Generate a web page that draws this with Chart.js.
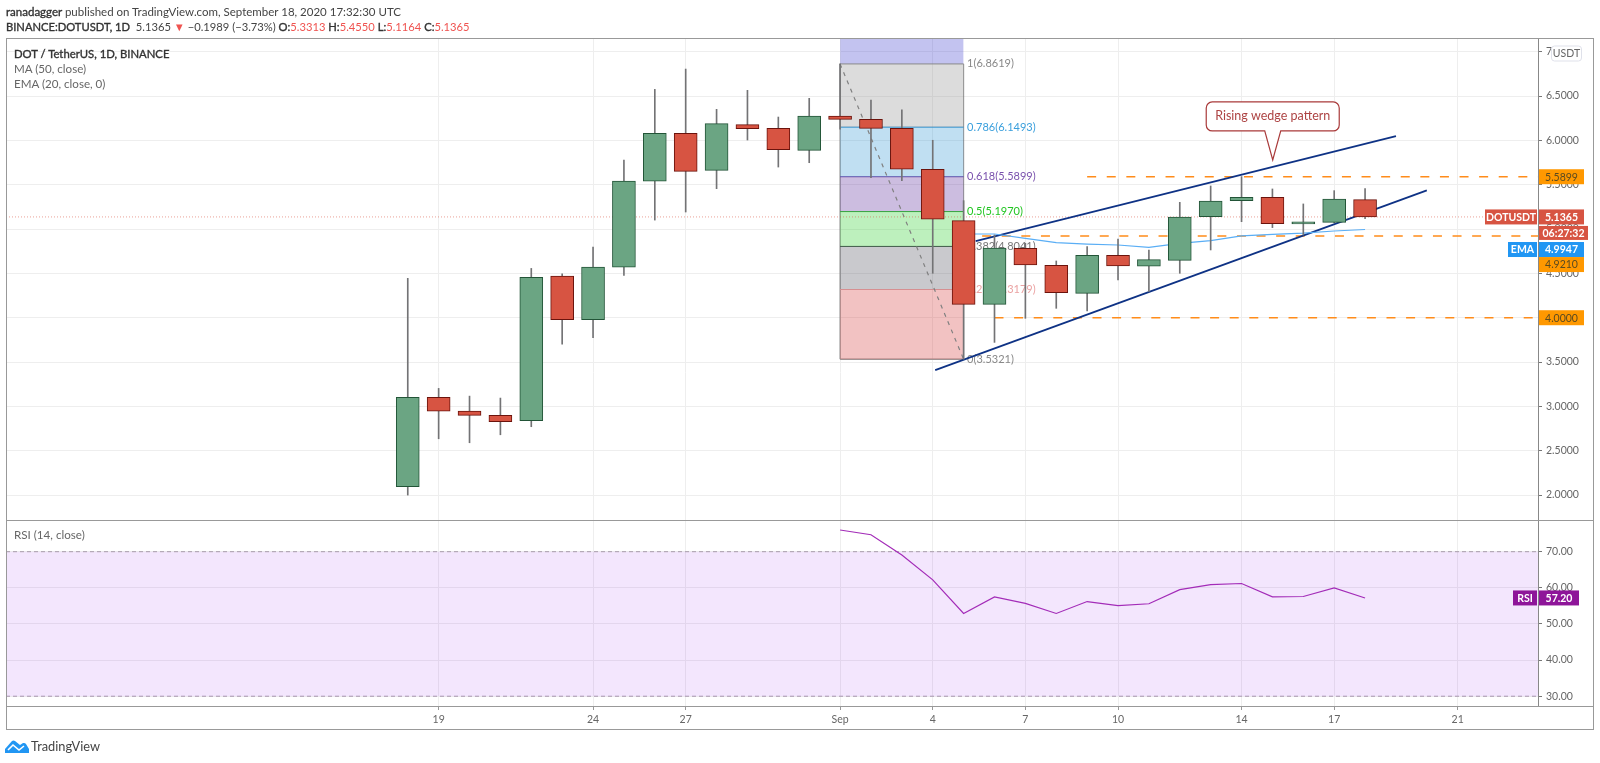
<!DOCTYPE html>
<html>
<head>
<meta charset="utf-8">
<title>DOTUSDT</title>
<script src="https://cdn.jsdelivr.net/npm/chart.js@4/dist/chart.umd.js"></script>
<style>
  html, body { margin: 0; padding: 0; background: #fff; }
  #wrap { position: relative; width: 1600px; height: 763px; overflow: hidden; font-family: Lato, sans-serif; }
  canvas { position: absolute; left: 0; top: 0; }
  .txt { position: absolute; white-space: nowrap; color: #555; font-size: 11.6px; line-height: 15px; }
  .head { font-size: 11.5px; color: #444; }
  .up { color: #ef5350; }
  b { color: #333; font-weight: 400; -webkit-text-stroke: 0.35px #333; }
</style>
</head>
<body>
<div id="wrap">
  <canvas id="chart" width="1600" height="763"></canvas>
  <div class="txt head" style="left:6px;top:4px"><b>ranadagger</b> published on TradingView.com, September 18, 2020 17:32:30 UTC</div>
  <div class="txt head" style="left:6px;top:19px;font-size:11.2px"><b>BINANCE:DOTUSDT, 1D</b>&nbsp; 5.1365 <span class="up">▼</span> −0.1989 (−3.73%) <b>O:</b><span class="up">5.3313</span> <b>H:</b><span class="up">5.4550</span> <b>L:</b><span class="up">5.1164</span> <b>C:</b><span class="up">5.1365</span></div>
  <div class="txt" style="left:14px;top:46px;font-size:11.3px"><b>DOT / TetherUS, 1D, BINANCE</b></div>
  <div class="txt" style="left:14px;top:61px;color:#666">MA (50, close)</div>
  <div class="txt" style="left:14px;top:76px;color:#666">EMA (20, close, 0)</div>
  <div class="txt" style="left:14px;top:527px;color:#666">RSI (14, close)</div>
  <svg style="position:absolute;left:5px;top:740px" width="24" height="13" viewBox="0 0 24 13">
    <path d="M0 9 L7 1 Q8.5 0 10 1 L15 5 L18 3 Q20 2.500 21 4 L24 9 L24 13 L0 13 Z" fill="#2196f3"/>
    <path d="M3 10 L8 5 L14 10 L19 6" fill="none" stroke="#fff" stroke-width="1.6"/>
  </svg>
  <div class="txt" style="left:31px;top:739px;color:#444;font-size:12.8px">TradingView</div>
</div>
<script>
// 日线索引：0 = 8月18日
const dayIndex = [0,1,2,3,4,5,6,7,8,9,10,11,12,13,14,15,16,17,18,19,20,21,22,23,24,25,26,27,28,29,30,31];
const opens  = [2.094,3.101,2.947,2.898,2.838,4.470,3.977,4.571,5.541,6.079,5.662,6.177,6.135,5.887,6.275,6.237,6.136,5.674,5.095,4.151,4.783,4.591,4.275,4.704,4.580,4.647,5.140,5.320,5.358,5.057,5.076,5.3313];
const highs  = [4.444,3.203,3.116,3.094,4.556,4.496,4.797,5.778,6.575,6.804,6.350,6.564,6.263,6.474,6.8619,6.455,6.343,6.001,5.320,4.933,4.840,4.640,4.801,4.888,4.764,5.301,5.486,5.591,5.452,5.283,5.433,5.4550];
const lows   = [2.000,2.635,2.590,2.680,2.771,3.703,3.774,4.477,5.101,5.192,5.455,6.004,5.699,5.748,6.125,5.580,5.546,4.501,3.5321,3.722,3.993,4.106,4.076,4.425,4.294,4.501,4.764,5.083,5.016,4.933,5.070,5.1164];
const closes = [3.101,2.947,2.898,2.827,4.455,3.977,4.571,5.541,6.079,5.650,6.188,6.132,5.895,6.274,6.237,6.136,5.674,5.110,4.151,4.786,4.595,4.283,4.704,4.583,4.655,5.136,5.316,5.358,5.061,5.080,5.339,5.1365];

const emaDays   = [18,19,20,21,22,23,24,25,26,27,28,29,30,31];
const emaValues = [4.944,4.944,4.895,4.846,4.831,4.820,4.794,4.839,4.869,4.922,4.940,4.955,4.978,4.9947];

const rsiDays   = [14,15,16,17,18,19,20,21,22,23,24,25,26,27,28,29,30,31];
const rsiValues = [76.0,74.7,69.1,62.2,52.9,57.5,55.7,52.9,56.2,55.1,55.6,59.5,60.9,61.2,57.5,57.6,60.0,57.20];

const tickDays   = [1,6,9,14,17,20,23,27,30,34];
const tickLabels = ['19','24','27','Sep','4','7','10','14','17','21'];

// 斐波那契回撤
const fibRatios = ['1','0.786','0.618','0.5','0.382','0.236','0'];
const fibLevels = [6.8619,6.1493,5.5899,5.1970,4.8041,4.3179,3.5321];
const fibLines  = ['#8a8a8a','#2a8cc8','#6a3fa0','#2fb82f','#44444f','#ee9a9a','#9a9a9a'];
const fibText   = ['#888888','#3a9fdc','#7a52ad','#22c522','#777777','#eba3a3','#888888'];
const fibFills  = ['rgba(138,138,138,.3)','rgba(48,148,212,.3)','rgba(85,35,152,.3)','rgba(35,205,35,.3)','rgba(75,75,88,.3)','rgba(212,52,52,.3)'];
const fibTopFill = 'rgba(55,55,205,.3)';
const fibStart = 14, fibEnd = 18;

// 趋势线与水平位
const wedgeUpperDays = [18.39,32.0],  wedgeUpperVals = [4.865,6.049];
const wedgeLowerDays = [17.08,33.0],  wedgeLowerVals = [3.41,5.437];
const levelValues = [5.5899,4.9210,4.0000];
const levelStarts = [22.0,18.6,19.0];

const lastPrice = 5.1365, lastEma = 4.9947, lastRsi = 57.20;
const xMin = -13.01, xMax = 36.60;
const priceMin = 1.719, priceMax = 7.143;
const rsiMin = 27.3, rsiMax = 78.77;
const calloutDay = 28.01, calloutValue = 5.779;

const UP = '#6ba583', DOWN = '#d75442', UP_LINE = '#225437', DOWN_LINE = '#6b130c';
const AXIS_FONT = { family: 'Lato, sans-serif', size: 10.5 };

function isUp(i) { return closes[i] >= opens[i]; }

function pts(xs, ys) { return xs.map((x, i) => ({ x: x, y: ys[i] })); }

function lineSet(data, color, extra) {
    return Object.assign({
        type: 'line', data: data, borderColor: color, borderWidth: 1,
        pointRadius: 0, tension: 0, fill: false, yAxisID: 'y', order: 5
    }, extra || {});
}

function buildDatasets() {
    const sets = [];

    // K线实体和影线
    sets.push({
        type: 'bar', yAxisID: 'y', grouped: false, order: 1, barThickness: 23,
        data: dayIndex.map(i => ({ x: i, y: [opens[i], closes[i]] })),
        backgroundColor: dayIndex.map(i => isUp(i) ? UP : DOWN),
        borderColor: dayIndex.map(i => isUp(i) ? UP_LINE : DOWN_LINE),
        borderWidth: 1, borderSkipped: false
    });
    sets.push({
        type: 'bar', yAxisID: 'y', grouped: false, order: 2, barThickness: 1,
        data: dayIndex.map(i => ({ x: i, y: [lows[i], highs[i]] })),
        backgroundColor: '#737375'
    });

    // 均线、楔形、水平虚线
    sets.push(lineSet(pts(emaDays, emaValues), '#5aaef5', { order: 3, borderWidth: 1.2 }));
    sets.push(lineSet(pts(wedgeUpperDays, wedgeUpperVals), '#0e3285', { order: 4, borderWidth: 1.8 }));
    sets.push(lineSet(pts(wedgeLowerDays, wedgeLowerVals), '#0e3285', { order: 4, borderWidth: 1.8 }));
    levelValues.forEach((v, i) => {
        sets.push(lineSet(pts([levelStarts[i], xMax], [v, v]), '#ff8c1a', { order: 4, borderWidth: 1.5, borderDash: [9, 10.6] }));
    });
    sets.push(lineSet(pts([xMin, xMax], [lastPrice, lastPrice]), 'rgba(215,84,66,.55)', { order: 6, borderDash: [1, 2] }));

    // 斐波那契区域
    sets.push(lineSet(pts([fibStart, fibEnd], [fibLevels[0], fibLevels[6]]), '#808080', { order: 7, borderDash: [4, 5], borderWidth: 1.2 }));
    fibFills.forEach((c, i) => {
        sets.push(lineSet(pts([fibStart, fibEnd], [fibLevels[i], fibLevels[i]]), fibLines[i], {
            order: 8, fill: { target: { value: fibLevels[i + 1] } }, backgroundColor: c
        }));
    });
    sets.push(lineSet(pts([fibStart, fibEnd], [fibLevels[6], fibLevels[6]]), fibLines[6], { order: 8, borderWidth: 1.5 }));
    sets.push(lineSet(pts([fibStart, fibEnd], [priceMax, priceMax]), 'transparent', {
        order: 8, fill: { target: { value: fibLevels[0] } }, backgroundColor: fibTopFill
    }));
    sets.push(lineSet(pts([fibStart, fibStart], [fibLevels[0], fibLevels[6]]), 'rgba(120,120,120,.4)', { order: 8 }));
    sets.push(lineSet(pts([fibEnd, fibEnd], [fibLevels[0], fibLevels[6]]), 'rgba(120,120,120,.4)', { order: 8 }));

    // RSI
    sets.push(lineSet(pts(rsiDays, rsiValues), '#a32cb8', { yAxisID: 'rsi', order: 1, borderWidth: 1.2 }));
    sets.push(lineSet(pts([xMin, xMax], [70, 70]), '#a89cab', {
        yAxisID: 'rsi', order: 9, borderDash: [4, 3],
        fill: { target: { value: 30 } }, backgroundColor: 'rgba(135,5,235,.1)'
    }));
    sets.push(lineSet(pts([xMin, xMax], [30, 30]), '#a89cab', { yAxisID: 'rsi', order: 9, borderDash: [4, 3] }));
    return sets;
}

function badge(ctx, x, w, yc, h, fill, text, color, bold) {
    ctx.fillStyle = fill;
    ctx.fillRect(x, yc - h / 2, w, h);
    ctx.fillStyle = color;
    ctx.font = (bold ? '700 ' : '') + '10.5px Lato, sans-serif';
    ctx.textAlign = 'center';
    ctx.textBaseline = 'middle';
    ctx.fillText(text, x + w / 2, yc + 0.5);
}

// 斐波那契文字在K线下面
const fibLabelPlugin = {
    id: 'fibLabels',
    beforeDatasetsDraw(chart) {
        const { ctx, scales } = chart;
        ctx.save();
        ctx.font = '11px Lato, sans-serif';
        ctx.textAlign = 'left';
        ctx.textBaseline = 'middle';
        fibLevels.forEach((v, i) => {
            ctx.fillStyle = fibText[i];
            ctx.fillText(fibRatios[i] + '(' + v.toFixed(4) + ')', scales.x.getPixelForValue(fibEnd) + 3.5, scales.y.getPixelForValue(v));
        });
        ctx.restore();
    }
};

// 标注、右侧价格标签、外框
const overlayPlugin = {
    id: 'overlay',
    afterDraw(chart) {
        const { ctx, scales, chartArea } = chart;
        const py = v => scales.y.getPixelForValue(v);
        const right = chartArea.right;
        ctx.save();

        // Rising wedge pattern 气泡
        const tipX = scales.x.getPixelForValue(calloutDay), tipY = py(calloutValue);
        const bx = tipX - 66.5, by = tipY - 58, bw = 133, bh = 29;
        ctx.beginPath();
        ctx.moveTo(bx + 6, by);
        ctx.arcTo(bx + bw, by, bx + bw, by + bh, 6);
        ctx.arcTo(bx + bw, by + bh, bx, by + bh, 6);
        ctx.lineTo(tipX + 8, by + bh);
        ctx.lineTo(tipX, tipY);
        ctx.lineTo(tipX - 8, by + bh);
        ctx.arcTo(bx, by + bh, bx, by, 6);
        ctx.arcTo(bx, by, bx + bw, by, 6);
        ctx.closePath();
        ctx.fillStyle = '#fff';
        ctx.fill();
        ctx.strokeStyle = '#a93a3a';
        ctx.lineWidth = 1.2;
        ctx.stroke();
        ctx.fillStyle = '#ad4444';
        ctx.font = '12.5px Lato, sans-serif';
        ctx.textAlign = 'center';
        ctx.textBaseline = 'middle';
        ctx.fillText('Rising wedge pattern', bx + bw / 2, by + bh / 2);

        // 右侧标签
        badge(ctx, right + 1, 45, py(levelValues[0]), 15, '#ff9800', '5.5899', '#5a4a20');
        badge(ctx, right + 1, 45, py(levelValues[1]) + 28.5, 15, '#ff9800', '4.9210', '#5a4a20');
        badge(ctx, right + 1, 45, py(levelValues[2]), 15, '#ff9800', '4.0000', '#5a4a20');
        badge(ctx, right - 53, 52, py(lastPrice), 15, DOWN, 'DOTUSDT', '#fff', true);
        badge(ctx, right + 1, 45, py(lastPrice), 15, DOWN, '5.1365', '#fff', true);
        badge(ctx, right + 1, 49, py(lastPrice) + 16, 14, DOWN, '06:27:32', '#fff', true);
        badge(ctx, right - 30, 29, py(lastEma) + 20, 15, '#2196f3', 'EMA', '#fff', true);
        badge(ctx, right + 1, 45, py(lastEma) + 20, 15, '#2196f3', '4.9947', '#fff', true);
        const ry = scales.rsi.getPixelForValue(lastRsi);
        badge(ctx, right - 25, 24, ry, 15, '#8e1599', 'RSI', '#fff', true);
        badge(ctx, right + 1, 40, ry, 15, '#8e1599', '57.20', '#fff', true);

        // USDT 小框
        ctx.fillStyle = '#fff';
        ctx.strokeStyle = '#dfe1ea';
        ctx.lineWidth = 1;
        ctx.beginPath();
        ctx.roundRect(right + 13.5, 46, 30, 15, 3);
        ctx.fill();
        ctx.stroke();
        ctx.fillStyle = '#666';
        ctx.font = '10.5px Lato, sans-serif';
        ctx.fillText('USDT', right + 28.5, 54);

        // 外框和分隔线
        ctx.strokeStyle = '#999';
        ctx.lineWidth = 1;
        ctx.strokeRect(6.5, 38.5, 1587, 691);
        ctx.beginPath();
        ctx.moveTo(6, scales.y.bottom + 0.5);
        ctx.lineTo(1594, scales.y.bottom + 0.5);
        ctx.moveTo(6, chartArea.bottom + 0.5);
        ctx.lineTo(1594, chartArea.bottom + 0.5);
        ctx.stroke();
        ctx.restore();
    }
};

new Chart(document.getElementById('chart'), {
    type: 'bar',
    data: { datasets: buildDatasets() },
    plugins: [fibLabelPlugin, overlayPlugin],
    options: {
        responsive: false,
        animation: false,
        devicePixelRatio: 1,
        layout: { padding: { left: 6, top: 39, right: 6, bottom: 33 } },
        plugins: { legend: { display: false }, title: { display: false }, tooltip: { enabled: false } },
        scales: {
            x: {
                type: 'linear', min: xMin, max: xMax, offset: false,
                grid: { offset: false, color: '#eeeeee', tickLength: 4, tickColor: '#999' },
                border: { color: '#999' },
                afterBuildTicks(scale) { scale.ticks = tickDays.map(d => ({ value: d })); },
                afterFit(scale) { scale.height = 24; },
                ticks: {
                    color: '#666', font: AXIS_FONT, maxRotation: 0, autoSkip: false, padding: 3,
                    callback: v => tickLabels[tickDays.indexOf(v)]
                }
            },
            y: {
                axis: 'y', type: 'linear', position: 'right', stack: 'panes', stackWeight: 481,
                min: priceMin, max: priceMax, beginAtZero: false,
                grid: { color: '#eeeeee', tickLength: 4, tickColor: '#777' },
                border: { color: '#888' },
                afterFit(scale) { scale.width = 56; },
                ticks: {
                    stepSize: 0.5, includeBounds: false, color: '#666', font: AXIS_FONT, padding: 4,
                    callback: v => v.toFixed(4)
                }
            },
            rsi: {
                axis: 'y', type: 'linear', position: 'right', stack: 'panes', stackWeight: 186,
                min: rsiMin, max: rsiMax, beginAtZero: false,
                grid: { color: '#eeeeee', tickLength: 4, tickColor: '#777' },
                border: { color: '#888' },
                afterFit(scale) { scale.width = 56; },
                ticks: {
                    stepSize: 10, includeBounds: false, color: '#666', font: AXIS_FONT, padding: 4,
                    callback: v => v.toFixed(2)
                }
            }
        }
    }
});
</script>
</body>
</html>
